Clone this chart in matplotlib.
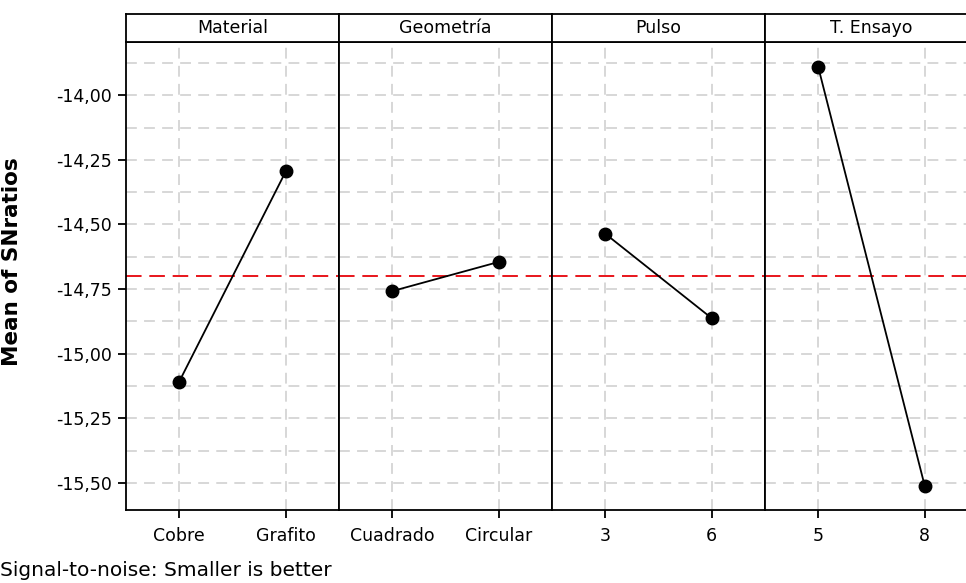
import matplotlib
matplotlib.use("Agg")
import matplotlib.pyplot as plt
from matplotlib.ticker import FuncFormatter, MultipleLocator

factors = ["Material", "Geometría", "Pulso", "T. Ensayo"]
levels = [["Cobre", "Grafito"], ["Cuadrado", "Circular"], ["3", "6"], ["5", "8"]]
sn_means = [[-15.108, -14.295], [-14.758, -14.645], [-14.536, -14.863], [-13.891, -15.512]]
overall_mean = -14.70

plt.rcParams['font.family'] = ['DejaVu Sans']

fig = plt.figure(figsize=(9.66, 5.83), dpi=100)
W, H = 966.0, 583.0
left0 = 126
pw = 213
top = 42
bottom = 510
head = 28

for i, f in enumerate(factors):
    x0 = left0 + i * pw
    ax = fig.add_axes([x0 / W, 1 - bottom / H, pw / W, (bottom - top) / H])
    hx = fig.add_axes([x0 / W, 1 - top / H, pw / W, head / H])
    hx.set_xticks([])
    hx.set_yticks([])
    hx.text(0.5, 0.5, f, ha="center", va="center", fontsize=12.5)
    for s in hx.spines.values():
        s.set_linewidth(1.3)

    xs = list(range(len(levels[i])))
    ax.plot(xs, sn_means[i], color="black", lw=1.3, marker="o", ms=9, zorder=3)
    ax.axhline(overall_mean, color="#e8151b", lw=1.4, dashes=(8, 4), zorder=2)
    ax.set_xlim(-0.5, 1.5)
    ax.set_ylim(-15.605, -13.794)
    ax.set_xticks(xs)
    ax.set_xticklabels(levels[i], fontsize=12.5)
    ax.yaxis.set_major_locator(MultipleLocator(0.25))
    ax.yaxis.set_minor_locator(MultipleLocator(0.125))
    ax.grid(True, which="both", axis="y", color="#d4d4d4", lw=1.3, dashes=(6, 4))
    ax.grid(True, which="major", axis="x", color="#d4d4d4", lw=1.3, dashes=(6, 4))
    ax.set_axisbelow(True)
    ax.tick_params(axis="x", length=6, width=1.3, pad=6)
    ax.tick_params(axis="y", which="minor", length=0)
    if i == 0:
        ax.yaxis.set_major_formatter(FuncFormatter(lambda v, p: ("%.2f" % v).replace(".", ",")))
        ax.tick_params(axis="y", which="major", length=6, width=1.3, labelsize=12.5, pad=4)
        ax.set_ylabel("Mean of SNratios", fontsize=15.5, fontweight="bold")
        ax.yaxis.set_label_coords((22 - 126) / pw, 0.53)
    else:
        ax.tick_params(axis="y", which="major", length=0, labelleft=False)
    for s in ax.spines.values():
        s.set_linewidth(1.3)

fig.text(0 / W, 1 - 571 / H, "Signal-to-noise: Smaller is better", fontsize=14.5, va="center", ha="left")

fig.savefig("out.png", dpi=100)
